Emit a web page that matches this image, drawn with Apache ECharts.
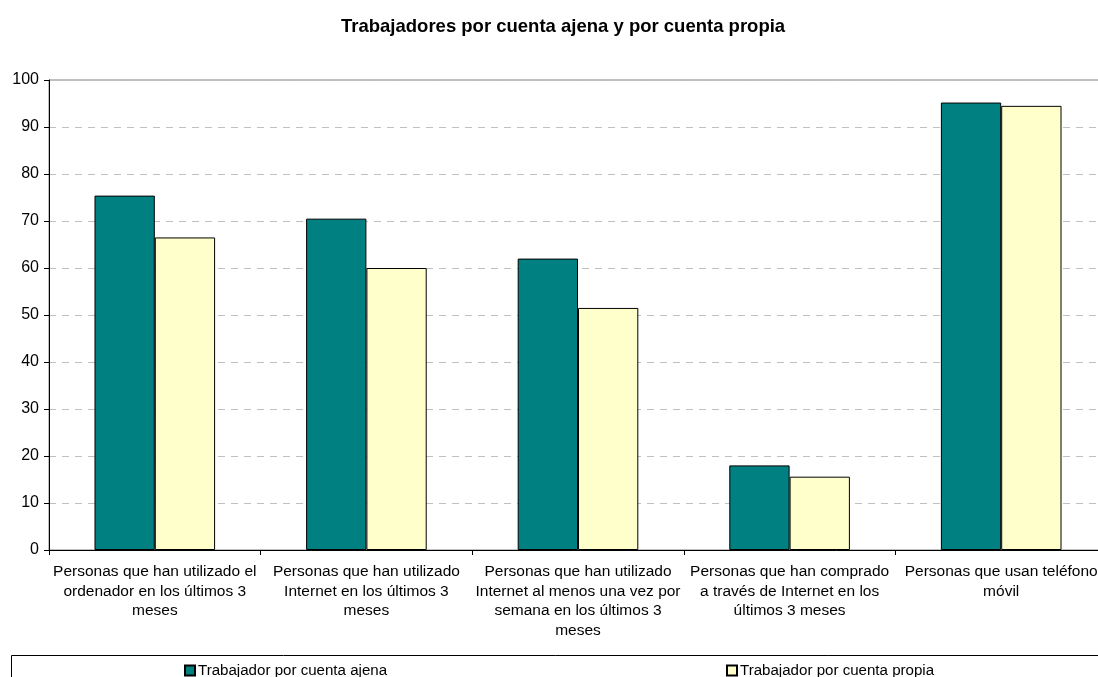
<!DOCTYPE html>
<html>
<head>
<meta charset="utf-8">
<script src="https://cdn.jsdelivr.net/npm/echarts@6/dist/echarts.min.js"></script>
<style>
  html, body { margin: 0; padding: 0; background: #fff; }
  #chart { width: 1098px; height: 677px; }
</style>
</head>
<body>
<div id="chart"></div>
<script>
var titleText = "Trabajadores por cuenta ajena y por cuenta propia";
var categories = [
  "Personas que han utilizado el\nordenador en los últimos 3\nmeses",
  "Personas que han utilizado\nInternet en los últimos 3\nmeses",
  "Personas que han utilizado\nInternet al menos una vez por\nsemana en los últimos 3\nmeses",
  "Personas que han comprado\na través de Internet en los\núltimos 3 meses",
  "Personas que usan teléfono\nmóvil"
];
var seriesNames = ["Trabajador por cuenta ajena", "Trabajador por cuenta propia"];
var ajena = [75.4, 70.5, 62.0, 18.0, 95.2];
var propia = [66.5, 60.0, 51.5, 15.6, 94.5];

var chart = echarts.init(document.getElementById("chart"));
var font = "Liberation Sans, Arial, sans-serif";

var option = {
  backgroundColor: "#fff",
  animation: false,
  textStyle: { fontFamily: font },
  title: {
    text: titleText,
    left: 336,
    top: 12,
    textStyle: { fontSize: 18.5, fontWeight: "bold", color: "#000", fontFamily: font }
  },
  // legend box
  graphic: [
    {
      type: "rect",
      shape: { x: 11.5, y: 655.5, width: 1100, height: 40 },
      style: { fill: "none", stroke: "#000", lineWidth: 1 },
      silent: true
    }
  ],
  legend: [
    {
      data: [seriesNames[0]],
      left: 179,
      top: 658,
      icon: "rect",
      itemWidth: 10,
      itemHeight: 10,
      textStyle: { fontSize: 15.1, color: "#000", fontFamily: font, padding: [0, 0, 0, -2] }
    },
    {
      data: [seriesNames[1]],
      left: 721,
      top: 658,
      icon: "rect",
      itemWidth: 10,
      itemHeight: 10,
      textStyle: { fontSize: 15.1, color: "#000", fontFamily: font, padding: [0, 0, 0, -2] }
    }
  ],
  grid: {
    left: 49,
    top: 80,
    width: 1058,
    height: 470,
    outerBoundsMode: "none",
    containLabel: false,
    show: true,
    borderColor: "#808080",
    borderWidth: 1,
    backgroundColor: "#fff"
  },
  xAxis: {
    type: "category",
    data: categories,
    axisLine: { lineStyle: { color: "#000", width: 1 } },
    axisTick: { show: true, length: 5, lineStyle: { color: "#000" } },
    axisLabel: {
      interval: 0,
      color: "#000",
      fontSize: 15.5,
      lineHeight: 19.5,
      margin: 12,
      fontFamily: font
    }
  },
  yAxis: {
    type: "value",
    min: 0,
    max: 100,
    interval: 10,
    axisLine: { show: true, lineStyle: { color: "#000", width: 1 } },
    axisTick: { show: true, length: 5, lineStyle: { color: "#000" } },
    axisLabel: { color: "#000", fontSize: 16, margin: 10, fontFamily: font },
    splitLine: { show: true, lineStyle: { color: "#c0c0c0", type: [7, 6], width: 1 } }
  },
  series: [
    {
      name: seriesNames[0],
      type: "bar",
      data: ajena,
      barGap: "0%",
      barCategoryGap: "43%",
      itemStyle: { color: "#008080", borderColor: "#000", borderWidth: 1 }
    },
    {
      name: seriesNames[1],
      type: "bar",
      data: propia,
      barGap: "0%",
      barCategoryGap: "43%",
      itemStyle: { color: "#FFFFCC", borderColor: "#000", borderWidth: 1 }
    }
  ]
};

chart.setOption(option);
</script>
</body>
</html>
